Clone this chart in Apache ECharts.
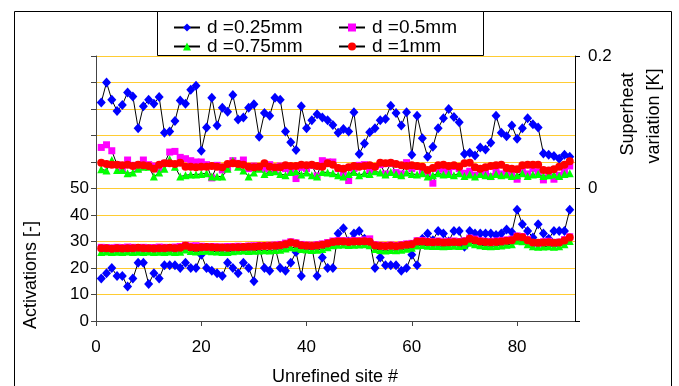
<!DOCTYPE html>
<html>
<head>
<meta charset="utf-8">
<script src="https://cdn.jsdelivr.net/npm/echarts@6/dist/echarts.min.js"></script>
<style>
  html, body { margin: 0; padding: 0; background: #fff; }
  #chart { width: 679px; height: 386px; }
</style>
</head>
<body>
<div id="chart"></div>
<script>
// Site numbers along the x axis
const sites = [1,2,3,4,5,6,7,8,9,10,11,12,13,14,15,16,17,18,19,20,21,22,23,24,25,26,27,28,29,30,
  31,32,33,34,35,36,37,38,39,40,41,42,43,44,45,46,47,48,49,50,51,52,53,54,55,56,57,58,59,60,
  61,62,63,64,65,66,67,68,69,70,71,72,73,74,75,76,77,78,79,80,81,82,83,84,85,86,87,88,89,90];

const seriesNames = ['d =0.25mm', 'd =0.5mm', 'd =0.75mm', 'd =1mm'];

// Number of activations per site (left axis)
const act025 = [16,18,20,17,17,13,16,22,22,14,18,16,21,21,21,20,22,20,20,25,
  20,19,18,17,22,20,18,22,20,15,28,20,19,28,20,19,22,26,17,28,
  28,17,24,20,20,33,35,30,33,34,31,30,20,24,21,21,21,19,20,25,
  21,31,33,30.5,34,33,30,34,34,28,34,33,33,33,33,32.5,33,34.5,33.5,42,
  36.5,34,31.5,36.5,33,31,34,34,34,42];
const act05 = [27.8,27.7,27.6,27.8,27.7,27.9,27.8,27.7,27.8,27.6,27.7,27.9,27.8,27.7,27.9,28.1,28.6,28.3,28.4,
  28.2,28.0,28.1,28.0,27.9,28.1,28.0,28.2,28.1,28.3,28.4,28.5,28.4,28.6,28.7,28.9,
  29.4,29.9,29.5,28.9,28.7,28.6,28.8,29.1,29.6,
  30.2,30.4,30.3,30.2,30.4,30.3,30.6,31.0,
  28.8,28.6,28.5,28.7,28.5,28.8,29.1,29.3,
  30.3,30.4,30.1,30.0,30.2,29.9,30.1,30.2,30.0,30.3,
  31.3,30.9,30.3,30.1,30.0,30.2,30.4,30.6,30.9,
  32.1,31.9,30.8,29.4,29.2,29.9,30.1,29.4,29.8,30.7,31.8];
const act075 = [26.0,26.2,26.0,26.1,26.0,26.2,26.0,26.1,26.0,26.2,26.0,26.1,26.0,26.2,26.0,26.1,27.0,26.4,26.2,
  26.4,26.5,26.3,26.2,26.0,26.0,26.3,26.5,26.6,26.4,26.5,26.6,26.7,26.6,26.8,26.9,
  27.4,27.8,27.6,27.2,27.0,26.8,26.9,27.2,27.8,
  28.6,28.8,28.9,28.7,28.8,28.9,29.0,28.6,
  27.2,26.8,26.6,26.8,26.7,26.9,27.3,27.6,
  28.5,28.7,28.4,28.3,28.3,28.2,28.3,28.4,28.3,28.6,
  29.5,29.0,28.6,28.3,28.2,28.3,28.5,28.8,29.0,
  30.3,30.1,29.0,28.2,28.0,28.1,28.2,28.0,28.2,29.0,30.2];
const act1 = [27.5,27.5,27.3,27.5,27.4,27.5,27.5,27.6,27.5,27.5,27.4,27.5,27.5,27.6,27.5,27.6,28.4,27.8,27.6,
  27.8,27.9,27.8,27.7,27.7,27.6,27.8,27.8,27.9,28.0,28.0,28.2,28.3,28.3,28.4,28.6,
  29.0,29.6,29.2,28.6,28.4,28.3,28.5,28.8,29.2,
  29.8,30.0,30.0,29.8,30.0,30.0,30.1,29.9,
  28.5,28.3,28.2,28.4,28.2,28.5,28.8,29.0,
  30.0,30.0,29.8,29.7,29.8,29.6,29.7,29.8,29.7,30.0,
  31.0,30.5,30.0,29.8,29.7,29.8,30.0,30.3,30.5,
  31.8,31.6,30.5,29.6,29.5,29.6,29.7,29.5,29.6,30.4,31.5];

// Superheat variation per site in K (right axis)
const sh025 = [0.130,0.160,0.134,0.117,0.126,0.145,0.139,0.091,0.124,0.134,
  0.128,0.138,0.084,0.086,0.102,0.133,0.128,0.149,0.155,0.057,
  0.092,0.137,0.095,0.122,0.116,0.141,0.104,0.107,0.122,0.127,
  0.078,0.114,0.110,0.137,0.134,0.086,0.070,0.058,0.124,0.091,
  0.103,0.112,0.107,0.103,0.096,0.084,0.090,0.086,0.115,0.052,
  0.068,0.085,0.091,0.103,0.105,0.125,0.114,0.095,0.115,0.051,
  0.110,0.076,0.048,0.063,0.091,0.106,0.120,0.108,0.100,0.052,
  0.054,0.050,0.062,0.059,0.069,0.110,0.084,0.079,0.095,0.075,
  0.091,0.106,0.097,0.092,0.053,0.051,0.049,0.045,0.051,0.048];
const sh05 = [0.062,0.066,0.057,0.036,0.031,0.043,0.035,0.030,0.043,0.036,
  0.034,0.029,0.038,0.055,0.056,0.047,0.045,0.042,0.040,0.040,
  0.036,0.016,0.035,0.028,0.031,0.042,0.038,0.043,0.030,0.034,
  0.033,0.030,0.036,0.028,0.034,0.030,0.025,0.015,0.032,0.030,
  0.035,0.019,0.042,0.040,0.040,0.030,0.024,0.012,0.030,0.035,
  0.036,0.028,0.033,0.036,0.022,0.038,0.024,0.022,0.039,0.030,
  0.033,0.027,0.024,0.008,0.030,0.029,0.025,0.033,0.030,0.023,
  0.026,0.020,0.028,0.024,0.018,0.027,0.022,0.025,0.020,0.014,
  0.028,0.022,0.030,0.025,0.013,0.024,0.014,0.020,0.026,0.034];
const sh075 = [0.029,0.027,0.043,0.028,0.028,0.023,0.024,0.030,0.033,0.033,
  0.018,0.024,0.030,0.044,0.033,0.018,0.020,0.021,0.021,0.022,
  0.023,0.018,0.018,0.018,0.030,0.042,0.033,0.027,0.018,0.024,
  0.030,0.022,0.025,0.026,0.022,0.020,0.025,0.026,0.021,0.024,
  0.020,0.018,0.025,0.024,0.023,0.020,0.018,0.022,0.025,0.020,
  0.023,0.022,0.026,0.024,0.021,0.025,0.022,0.020,0.024,0.022,
  0.021,0.023,0.018,0.020,0.023,0.021,0.022,0.020,0.023,0.019,
  0.021,0.018,0.022,0.020,0.019,0.022,0.020,0.021,0.019,0.020,
  0.023,0.019,0.021,0.022,0.019,0.020,0.021,0.019,0.022,0.023];
const sh1 = [0.039,0.037,0.036,0.036,0.035,0.036,0.034,0.036,0.035,0.034,
  0.030,0.036,0.038,0.038,0.037,0.039,0.033,0.033,0.032,0.033,
  0.033,0.034,0.033,0.032,0.037,0.038,0.037,0.036,0.033,0.032,
  0.033,0.038,0.033,0.032,0.032,0.035,0.034,0.034,0.036,0.035,
  0.036,0.034,0.033,0.038,0.036,0.031,0.030,0.032,0.034,0.033,
  0.034,0.035,0.033,0.039,0.038,0.039,0.037,0.035,0.034,0.035,
  0.034,0.033,0.028,0.031,0.035,0.036,0.034,0.035,0.033,0.038,
  0.039,0.032,0.030,0.032,0.034,0.035,0.036,0.031,0.030,0.029,
  0.035,0.036,0.036,0.036,0.028,0.027,0.029,0.033,0.036,0.041];

// Axis tick settings
const xTicks = { min: 0, max: 91, step: 20 };
const actTicks = { min: 0, max: 100, step: 10, lastLabel: 50 };
const shTicks = { min: -0.2, max: 0.2, step: 0.2 };

const FONT = 'Liberation Sans, Arial, sans-serif';
const GOLD = '#FFCC33';

function pairs(values) {
  return sites.map((s, i) => [s, values[i]]);
}

const markers = [
  { symbol: 'diamond', size: [9, 10], color: '#0000FF' },
  { symbol: 'rect', size: 7, color: '#FF00FF' },
  { symbol: 'triangle', size: 8, color: '#00FF00' },
  { symbol: 'circle', size: 8, color: '#FF0000' }
];
const activations = [act025, act05, act075, act1];
const superheat = [sh025, sh05, sh075, sh1];

const series = [];
seriesNames.forEach((name, k) => {
  const m = markers[k];
  [[activations[k], 0], [superheat[k], 1]].forEach(([vals, axis]) => {
    series.push({
      name: name,
      type: 'line',
      yAxisIndex: axis,
      data: pairs(vals),
      symbol: m.symbol,
      symbolSize: m.size,
      showSymbol: true,
      itemStyle: { color: m.color, borderWidth: 0 },
      lineStyle: { color: '#000', width: 1 },
      emphasis: { disabled: true }
    });
  });
});

const legendSpots = [
  { left: 173, top: 18 },
  { left: 338, top: 18 },
  { left: 173, top: 37 },
  { left: 338, top: 37 }
];
const legends = seriesNames.map((name, k) => ({
  data: [name],
  left: legendSpots[k].left,
  top: legendSpots[k].top,
  padding: 0,
  itemWidth: 26,
  itemHeight: 10,
  itemGap: 0,
  selectedMode: false,
  textStyle: { fontFamily: FONT, fontSize: 19, color: '#000', lineHeight: 19, padding: [0, 0, 0, 2] }
}));

const chart = echarts.init(document.getElementById('chart'), null, { renderer: 'canvas' });
chart.setOption({
  animation: false,
  backgroundColor: '#fff',
  grid: { left: 96, right: 104, top: 56, bottom: 65, containLabel: false },
  legend: legends,
  xAxis: {
    type: 'value',
    min: xTicks.min, max: xTicks.max, interval: xTicks.step,
    axisLine: { show: true, lineStyle: { color: '#444', width: 1 } },
    axisTick: { show: true, inside: false, length: 5, lineStyle: { color: '#444' } },
    axisLabel: {
      show: true, margin: 18, fontFamily: FONT, fontSize: 17, color: '#000',
      showMaxLabel: false,
      formatter: v => (v % xTicks.step === 0 ? String(v) : '')
    },
    splitLine: { show: false }
  },
  yAxis: [
    {
      type: 'value', position: 'left',
      min: actTicks.min, max: actTicks.max, interval: actTicks.step,
      axisLine: { show: true, lineStyle: { color: '#444', width: 1 } },
      axisTick: { show: true, inside: false, length: 5, lineStyle: { color: '#444' } },
      axisLabel: {
        margin: 7, fontFamily: FONT, fontSize: 17, color: '#000',
        formatter: v => (v <= actTicks.lastLabel ? String(v) : '')
      },
      splitLine: { show: true, showMinLine: false, lineStyle: { color: GOLD, width: 1 } }
    },
    {
      type: 'value', position: 'right',
      min: shTicks.min, max: shTicks.max, interval: shTicks.step,
      axisLine: { show: true, lineStyle: { color: '#000', width: 1 } },
      axisTick: { show: true, inside: false, length: 5, lineStyle: { color: '#000' } },
      axisLabel: {
        margin: 13, fontFamily: FONT, fontSize: 17, color: '#000',
        formatter: v => (Math.abs(v) < 1e-9 ? '0' : v > 0 ? String(Math.round(v * 10) / 10) : '')
      },
      splitLine: { show: false }
    }
  ],
  graphic: [
    { type: 'rect', z: -1, silent: true,
      shape: { x: 14.5, y: 11.5, width: 657, height: 400 },
      style: { fill: '#fff', stroke: '#000', lineWidth: 1 } },
    { type: 'rect', z: 1, silent: true,
      shape: { x: 157.5, y: 11.5, width: 326, height: 44 },
      style: { fill: '#fff', stroke: '#000', lineWidth: 1 } },
    { type: 'text', silent: true, x: 31, y: 275, rotation: Math.PI / 2,
      style: { text: 'Activations [-]', font: '18px ' + FONT, fill: '#000', align: 'center', verticalAlign: 'middle' } },
    { type: 'text', silent: true, x: 335, y: 377,
      style: { text: 'Unrefined site #', font: '18px ' + FONT, fill: '#000', align: 'center', verticalAlign: 'middle' } },
    { type: 'text', silent: true, x: 628, y: 114, rotation: Math.PI / 2,
      style: { text: 'Superheat', font: '18px ' + FONT, fill: '#000', align: 'center', verticalAlign: 'middle' } },
    { type: 'text', silent: true, x: 654, y: 116, rotation: Math.PI / 2,
      style: { text: 'variation [K]', font: '18px ' + FONT, fill: '#000', align: 'center', verticalAlign: 'middle' } }
  ],
  series: series
});
</script>
</body>
</html>
